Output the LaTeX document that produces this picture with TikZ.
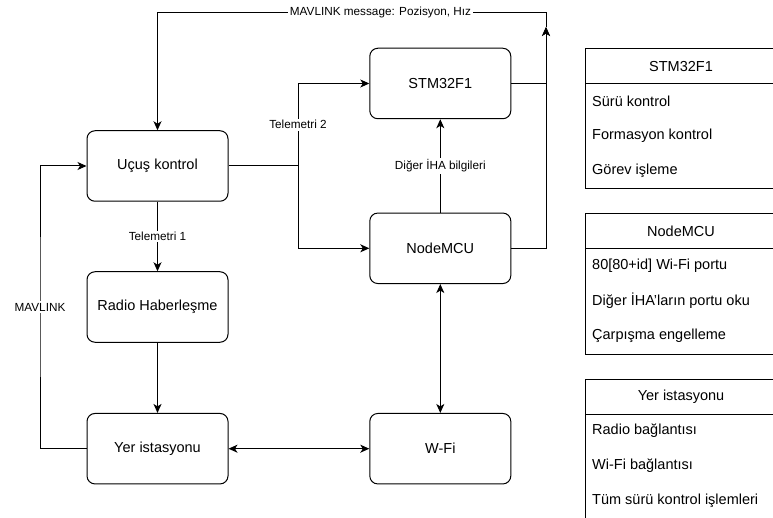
\documentclass[tikz,border=0pt]{standalone}
\usepackage{fontspec}
\setmainfont{Liberation Sans}
\usetikzlibrary{arrows.meta,calc}
\tikzset{
  box/.style={draw, line width=1pt, rounded corners=8pt, minimum width=141pt, minimum height=70.5pt, inner sep=0pt, font=\fontsize{14.5}{16}\selectfont, align=center},
  tipa/.tip={Stealth[length=9pt,width=8pt,inset=2.5pt]},
  conn/.style={line width=1pt, -tipa},
  dconn/.style={line width=1pt, tipa-tipa},
  wire/.style={line width=1pt},
  elabel/.style={fill=white, inner sep=1.5pt, font=\fontsize{11.75}{13}\selectfont},
  tframe/.style={draw, line width=1pt, anchor=north west, minimum width=191pt, inner sep=0pt},
  thead/.style={draw, line width=1pt, anchor=north west, minimum width=191pt, minimum height=35pt, inner sep=0pt, font=\fontsize{14.5}{16}\selectfont},
  trow/.style={anchor=west, inner sep=0pt, font=\fontsize{14.5}{16}\selectfont},
}
\begin{document}
\begin{tikzpicture}[x=1pt, y=-1pt]
\useasboundingbox (0,0) rectangle (773,518);
\clip (0,0) rectangle (773,518);
% main blocks
\node[box] (uk) at (157.5,166) {Uçuş kontrol};
\node[box] (radio) at (157.5,307) {Radio Haberleşme};
\node[box] (yer) at (157.5,448.7) {Yer istasyonu};
\node[box] (stm) at (440.3,83.5) {STM32F1};
\node[box] (nmcu) at (440.3,248.3) {NodeMCU};
\node[box] (wifi) at (440.3,448.7) {W-Fi};
% helper points
\coordinate (br) at (298,166);
\coordinate (lc) at (40,307);
\coordinate (mg) at (546,27);
\coordinate (tc) at (546,12.7);
\coordinate (tl) at (157.5,12.7);
% connectors
\draw[conn] (uk.south) -- node[elabel]{Telemetri 1} (radio.north);
\draw[conn] (radio.south) -- (yer.north);
\draw[dconn] (yer.east) -- (wifi.west);
\draw[dconn] (nmcu.south) -- (wifi.north);
\draw[conn] (nmcu.north) -- node[elabel]{Diğer İHA bilgileri} (stm.south);
\draw[wire] (uk.east) -- (br);
\draw[conn] (br) |- (nmcu.west);
\draw[conn] (br) |- node[elabel, pos=0.25]{Telemetri 2} (stm.west);
\draw[conn] (yer.west) -| (lc) node[elabel]{MAVLINK} |- (uk.west);
\draw[conn] (stm.east) -| (mg);
\draw[conn] (nmcu.east) -| (mg);
\draw[conn] (mg) -- (tc) -- node[elabel, pos=0.426]{MAVLINK message: Pozisyon, Hız} (tl) -- (uk.north);
% tables
\node[tframe, minimum height=140pt] (t1) at (585,48.5) {};
\node[thead] (t1h) at (585,48.5) {STM32F1};
\node[trow] (t1a) at (592,101) {Sürü kontrol};
\node[trow] (t1b) at (592,136) {Formasyon kontrol};
\node[trow] (t1c) at (592,171) {Görev işleme};
\node[tframe, minimum height=140pt] (t2) at (585,213.5) {};
\node[thead] (t2h) at (585,213.5) {NodeMCU};
\node[trow] (t2a) at (592,266) {80[80+id] Wi-Fi portu};
\node[trow] (t2b) at (592,301) {Diğer İHA'ların portu oku};
\node[trow] (t2c) at (592,336) {Çarpışma engelleme};
\node[tframe, minimum height=140pt] (t3) at (585,378.5) {};
\node[thead] (t3h) at (585,378.5) {Yer istasyonu};
\node[trow] (t3a) at (592,431) {Radio bağlantısı};
\node[trow] (t3b) at (592,466) {Wi-Fi bağlantısı};
\node[trow] (t3c) at (592,501) {Tüm sürü kontrol işlemleri};
\end{tikzpicture}
\end{document}
